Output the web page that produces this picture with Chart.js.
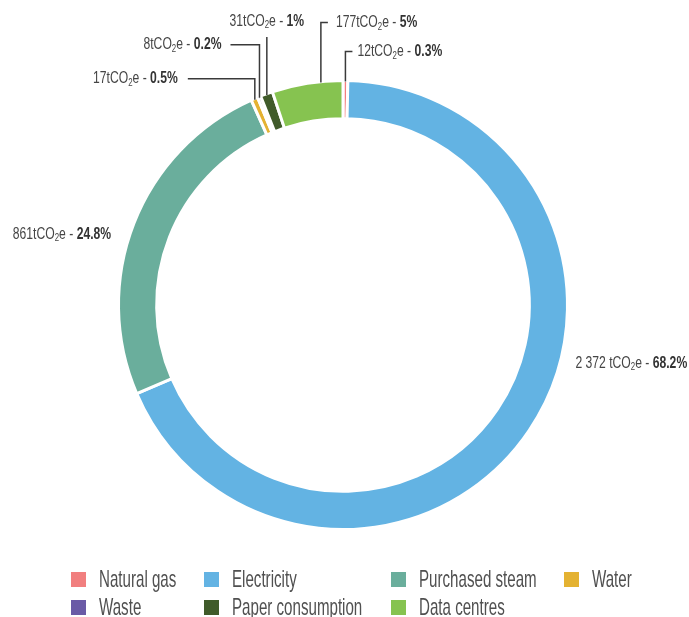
<!DOCTYPE html>
<html>
<head>
<meta charset="utf-8">
<script src="https://cdn.jsdelivr.net/npm/chart.js@4.4.1/dist/chart.umd.min.js"></script>
<style>
  html, body { margin: 0; padding: 0; background: #fff; }
  #wrap { position: relative; width: 689px; height: 617px; }
  #legend { position: absolute; left: 0; top: 0; width: 689px; height: 617px; pointer-events: none;
            font-family: 'Liberation Sans', Arial, sans-serif; font-size: 24px; color: #505050; }
  .item { position: absolute; display: flex; align-items: center; white-space: nowrap; transform: translateY(-50%); }
  .box { width: 15px; height: 15px; margin-right: 13px; flex: none; }
  .txt { display: inline-block; transform: scaleX(0.63); transform-origin: left center; }
</style>
</head>
<body>
<div id="wrap">
  <canvas id="chart" width="689" height="617"></canvas>
  <div id="legend"></div>
</div>
<script>
// données (tCO2e)
const categories = ['Natural gas', 'Electricity', 'Purchased steam', 'Water', 'Waste', 'Paper consumption', 'Data centres'];
const emissions = [12, 2372, 861, 17, 8, 31, 177];
const shareLabels = ['0.3%', '68.2%', '24.8%', '0.5%', '0.2%', '1%', '5%'];
const colours = ['#f17f7f', '#63b3e3', '#6aae9c', '#e4b232', '#6a5aa6', '#405b2a', '#86c350'];

// placement des étiquettes autour de l'anneau
const labelLayout = [
  { frac: 0.5, rise: 30, run: 7, gap: 5 },
  { angle: 104, gap: 15 },
  { angle: 287, gap: 18 },
  { frac: 0.5, rise: 21, run: -67, gap: 10 },
  { frac: 0.5, rise: 53, run: -29, gap: 9 },
  { frac: 0.5, rise: 58, run: 0, gap: 16 },
  { frac: 0.69, rise: 60, run: 7, gap: 8 }
];

const FONT = "'Liberation Sans', Arial, sans-serif";
const SQUEEZE = 0.715; // police étroite simulée

function labelParts(i) {
  const v = emissions[i];
  const txt = v >= 1000 ? String(v).replace(/\B(?=(\d{3})+(?!\d))/g, ' ') + ' ' : String(v);
  return [
    { t: txt + 'tCO' },
    { t: '2', sub: true },
    { t: 'e - ' },
    { t: shareLabels[i], bold: true }
  ];
}

function fontFor(p) {
  if (p.sub) return '11px ' + FONT;
  return (p.bold ? 'bold ' : '') + '17px ' + FONT;
}

function drawRich(ctx, parts, x, y, align) {
  const widths = parts.map(p => { ctx.font = fontFor(p); return ctx.measureText(p.t).width * SQUEEZE; });
  const total = widths.reduce((a, b) => a + b, 0);
  let cx = align === 'left' ? x : align === 'right' ? x - total : x - total / 2;
  ctx.textBaseline = 'middle';
  ctx.textAlign = 'left';
  parts.forEach((p, k) => {
    ctx.save();
    ctx.font = fontFor(p);
    ctx.fillStyle = p.bold ? '#333' : '#454545';
    ctx.translate(cx, p.sub ? y + 4 : y);
    ctx.scale(SQUEEZE, 1);
    ctx.fillText(p.t, 0, 0);
    ctx.restore();
    cx += widths[k];
  });
}

const labelPlugin = {
  id: 'sliceLabels',
  afterDatasetsDraw(chart) {
    const ctx = chart.ctx;
    const arcs = chart.getDatasetMeta(0).data;
    arcs.forEach((arc, i) => {
      const { x, y, startAngle, endAngle, outerRadius } =
        arc.getProps(['x', 'y', 'startAngle', 'endAngle', 'outerRadius'], true);
      const L = labelLayout[i];
      const parts = labelParts(i);
      ctx.save();
      if (L.angle !== undefined) {
        const a = (L.angle - 90) * Math.PI / 180;
        const px = x + Math.cos(a) * (outerRadius + L.gap);
        const py = y + Math.sin(a) * (outerRadius + L.gap);
        drawRich(ctx, parts, px, py, Math.cos(a) < 0 ? 'right' : 'left');
      } else {
        const a = startAngle + (endAngle - startAngle) * L.frac;
        const ax = x + Math.cos(a) * (outerRadius - 1);
        const ay = y + Math.sin(a) * (outerRadius - 1);
        const ty = ay - L.rise;
        ctx.strokeStyle = '#3a3a3a';
        ctx.lineWidth = 1.5;
        ctx.beginPath();
        ctx.moveTo(ax, ay);
        ctx.lineTo(ax, ty);
        ctx.lineTo(ax + L.run, ty);
        ctx.stroke();
        if (L.run === 0) drawRich(ctx, parts, ax, ty - L.gap, 'center');
        else if (L.run > 0) drawRich(ctx, parts, ax + L.run + L.gap, ty, 'left');
        else drawRich(ctx, parts, ax + L.run - L.gap, ty, 'right');
      }
      ctx.restore();
    });
  }
};

const chart = new Chart(document.getElementById('chart').getContext('2d'), {
  type: 'doughnut',
  data: {
    labels: categories,
    datasets: [{
      data: emissions,
      backgroundColor: colours,
      borderColor: '#ffffff',
      borderWidth: 3
    }]
  },
  options: {
    responsive: false,
    animation: false,
    cutout: '83%',
    layout: { padding: { left: 117, right: 120, top: 79, bottom: 86 } },
    plugins: {
      legend: { display: false },
      tooltip: { enabled: false }
    },
    events: []
  },
  plugins: [labelPlugin]
});

// légende en grille
const legendCols = [71, 204, 391, 564];
const legendRows = [579, 607];
const legendEl = document.getElementById('legend');
categories.forEach((name, i) => {
  const item = document.createElement('div');
  item.className = 'item';
  item.style.left = legendCols[i % 4] + 'px';
  item.style.top = legendRows[Math.floor(i / 4)] + 'px';
  item.innerHTML = '<span class="box" style="background:' + colours[i] + '"></span><span class="txt">' + name + '</span>';
  legendEl.appendChild(item);
});
</script>
</body>
</html>
